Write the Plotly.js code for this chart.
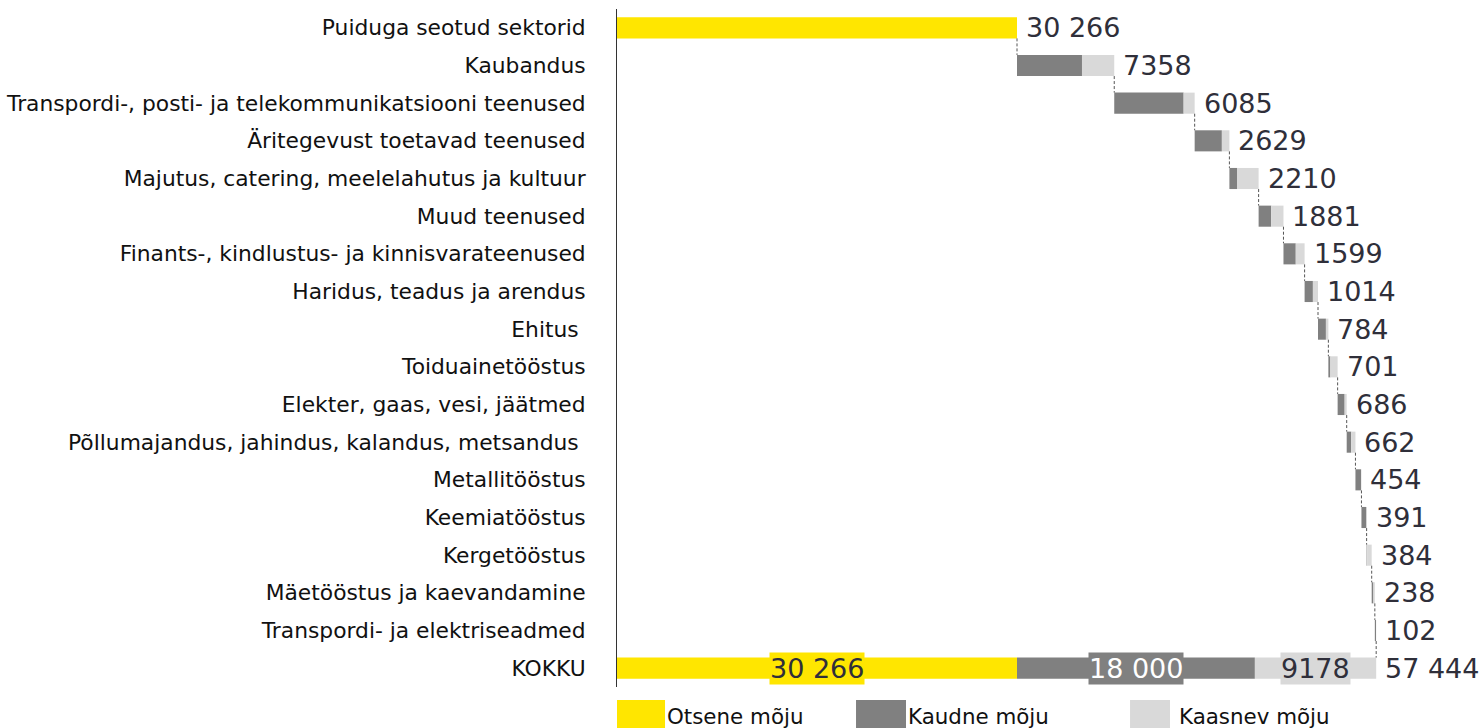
<!DOCTYPE html>
<html>
<head>
<meta charset="utf-8">
<script src="https://cdn.plot.ly/plotly-3.0.1.min.js"></script>
<style>html,body{margin:0;padding:0;background:#fff;}#chart{width:1484px;height:728px;}</style>
</head>
<body>
<div id="chart"></div>
<script>
// ---- data ----
const firstCategory = "Puiduga seotud sektorid";
const totalCategory = "KOKKU";
const sectors = [
  "Kaubandus",
  "Transpordi-, posti- ja telekommunikatsiooni teenused",
  "Äritegevust toetavad teenused",
  "Majutus, catering, meelelahutus ja kultuur",
  "Muud teenused",
  "Finants-, kindlustus- ja kinnisvarateenused",
  "Haridus, teadus ja arendus",
  "Ehitus ",
  "Toiduainetööstus",
  "Elekter, gaas, vesi, jäätmed",
  "Põllumajandus, jahindus, kalandus, metsandus ",
  "Metallitööstus",
  "Keemiatööstus",
  "Kergetööstus",
  "Mäetööstus ja kaevandamine",
  "Transpordi- ja elektriseadmed"
];
const directImpact = 30266;
const indirectImpact = [4917, 5250, 2059, 598, 951, 929, 628, 598, 150, 530, 340, 420, 370, 40, 130, 90];
const inducedImpact  = [2441,  835,  570, 1612, 930, 670, 386, 186, 551, 156, 322,  34,  21, 344, 108, 12];
const seriesNames = ["Otsene mõju", "Kaudne mõju", "Kaasnev mõju"];

// ---- styles ----
const COL_DIRECT = "#FFE600";
const COL_INDIRECT = "#808080";
const COL_INDUCED = "#D9D9D9";
const FONT = "DejaVu Sans";
const LABEL_COL = "#2f2f3a";
const VAL_SIZE = 27;

function fmtSp(v) {
  if (v >= 10000) return String(v).replace(/\B(?=(\d{3})+(?!\d))/g, " ");
  return String(v);
}

const categories = [firstCategory].concat(sectors, [totalCategory]);
const rowTotals = sectors.map((s, i) => indirectImpact[i] + inducedImpact[i]);
const starts = [];
let acc = directImpact;
rowTotals.forEach(t => { starts.push(acc); acc += t; });
const totIndirect = indirectImpact.reduce((a, b) => a + b, 0);
const totInduced = inducedImpact.reduce((a, b) => a + b, 0);
const grandTotal = directImpact + totIndirect + totInduced;

const bw = 0.56;
const traces = [
  {type: "bar", orientation: "h", name: seriesNames[0],
   y: [firstCategory, totalCategory], x: [directImpact, directImpact], base: [0, 0],
   marker: {color: COL_DIRECT}, width: bw},
  {type: "bar", orientation: "h", name: seriesNames[1],
   y: sectors.concat([totalCategory]), x: indirectImpact.concat([totIndirect]),
   base: starts.concat([directImpact]),
   marker: {color: COL_INDIRECT}, width: bw},
  {type: "bar", orientation: "h", name: seriesNames[2],
   y: sectors.concat([totalCategory]), x: inducedImpact.concat([totInduced]),
   base: starts.map((s, i) => s + indirectImpact[i]).concat([directImpact + totIndirect]),
   marker: {color: COL_INDUCED}, width: bw}
];

// value labels to the right of bars
const ends = [directImpact].concat(starts.map((s, i) => s + rowTotals[i]), [grandTotal]);
const labelVals = [directImpact].concat(rowTotals, [grandTotal]);
const annotations = categories.map((c, i) => ({
  x: ends[i], y: i, xref: "x", yref: "y", text: fmtSp(labelVals[i]),
  showarrow: false, xanchor: "left", xshift: 7,
  font: {family: FONT, size: VAL_SIZE, color: LABEL_COL}
}));
// in-bar labels for the total row
const totIdx = categories.length - 1;
const segs = [
  {v: directImpact, b: 0, bg: COL_DIRECT, fc: LABEL_COL},
  {v: totIndirect, b: directImpact, bg: COL_INDIRECT, fc: "#ffffff"},
  {v: totInduced, b: directImpact + totIndirect, bg: COL_INDUCED, fc: LABEL_COL}
];
segs.forEach(s => annotations.push({
  x: s.b + s.v / 2, y: totIdx, xref: "x", yref: "y", text: fmtSp(s.v),
  showarrow: false, xanchor: "center", bgcolor: s.bg, borderpad: 0,
  font: {family: FONT, size: VAL_SIZE, color: s.fc}
}));

// connectors
const shapes = [];
for (let i = 0; i < categories.length - 1; i++) {
  shapes.push({type: "line", xref: "x", yref: "y",
    x0: ends[i], x1: ends[i], y0: i + bw / 2, y1: i + 1 - bw / 2,
    line: {color: "#555555", width: 1, dash: "3px,2px"}});
}

// custom legend
const legendItems = [
  {name: seriesNames[0], color: COL_DIRECT, x0: 0.0, x1: 0.0567},
  {name: seriesNames[1], color: COL_INDIRECT, x0: 0.2822, x1: 0.3412},
  {name: seriesNames[2], color: COL_INDUCED, x0: 0.6057, x1: 0.6529}
];
const textGap = [0.0, 0.0, 0.0082];
legendItems.forEach((it, k) => {
  shapes.push({type: "rect", xref: "paper", yref: "paper",
    x0: it.x0, x1: it.x1, y0: -0.0192, y1: -0.065,
    fillcolor: it.color, line: {width: 0}});
  annotations.push({xref: "paper", yref: "paper", x: it.x1 + textGap[k], y: -0.043,
    text: it.name, showarrow: false, xanchor: "left", yanchor: "middle",
    font: {family: FONT, size: 21.4, color: "#111111"}});
});

const layout = {
  width: 1484, height: 728,
  margin: {l: 617, r: 20, t: 9, b: 41},
  paper_bgcolor: "#ffffff", plot_bgcolor: "#ffffff",
  barmode: "overlay", showlegend: false,
  xaxis: {range: [0, 64089], showgrid: false, zeroline: false, showticklabels: false,
          showline: false, fixedrange: true},
  yaxis: {type: "category", categoryarray: categories, autorange: "reversed",
          showgrid: false, zeroline: false, showline: true, linecolor: "#333333", linewidth: 1,
          ticks: "outside", ticklen: 26, tickcolor: "rgba(0,0,0,0)",
          tickfont: {family: FONT, size: 21.8, color: "#111111"}},
  annotations: annotations,
  shapes: shapes,
  font: {family: FONT}
};

Plotly.newPlot("chart", traces, layout, {displayModeBar: false, staticPlot: true});
</script>
</body>
</html>
